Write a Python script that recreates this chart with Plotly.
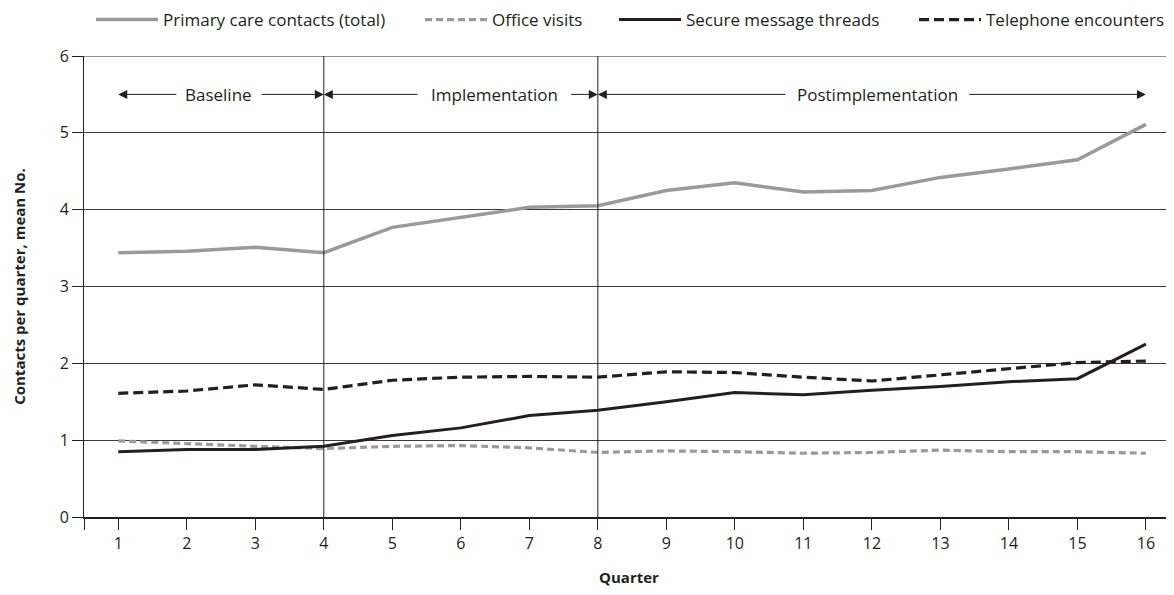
import plotly.graph_objects as go

quarters = list(range(1, 17))
tick_labels = [str(q) for q in quarters]
total = [3.44, 3.46, 3.51, 3.44, 3.77, 3.90, 4.03, 4.05, 4.25, 4.35, 4.23, 4.25, 4.42, 4.53, 4.65, 5.11]
office = [0.99, 0.95, 0.92, 0.89, 0.92, 0.93, 0.90, 0.84, 0.86, 0.85, 0.83, 0.84, 0.87, 0.85, 0.85, 0.83]
secure = [0.85, 0.88, 0.88, 0.92, 1.06, 1.16, 1.32, 1.39, 1.50, 1.62, 1.59, 1.65, 1.70, 1.76, 1.80, 2.25]
telephone = [1.61, 1.64, 1.72, 1.66, 1.78, 1.82, 1.83, 1.82, 1.89, 1.88, 1.82, 1.77, 1.85, 1.93, 2.01, 2.03]

phase_names = ["Baseline", "Implementation", "Postimplementation"]
phase_start = [1, 4, 8]
phase_end = [4, 8, 16]
phase_text_x = [2.47, 6.49, 12.08]
phase_half_gap = [0.6, 1.1, 1.32]
phase_y = 5.5

FONT = "Open Sans"
INK = "#231f20"
GRAY = "#9a9a9a"
FS = 17
W, H = 1166, 587

fig = go.Figure()
fig.add_trace(go.Scatter(x=quarters, y=total, mode="lines", name="Primary care contacts (total)",
                         line=dict(color=GRAY, width=3.5), legend="legend"))
fig.add_trace(go.Scatter(x=quarters, y=office, mode="lines", name="Office visits",
                         line=dict(color=GRAY, width=3.2, dash="7px,4px"), legend="legend2"))
fig.add_trace(go.Scatter(x=quarters, y=secure, mode="lines", name="Secure message threads",
                         line=dict(color=INK, width=3), legend="legend3"))
fig.add_trace(go.Scatter(x=quarters, y=telephone, mode="lines", name="Telephone encounters",
                         line=dict(color=INK, width=3.2, dash="10px,5px"), legend="legend4"))

shapes = []
for b in [4, 8]:
    shapes.append(dict(type="line", xref="x", yref="y", x0=b, x1=b, y0=0, y1=6,
                       line=dict(color=INK, width=1)))
shapes.append(dict(type="line", xref="paper", yref="y", x0=0, x1=1, y0=6, y1=6,
                   line=dict(color=INK, width=1)))

annotations = []
for name, s, e, tx, g in zip(phase_names, phase_start, phase_end, phase_text_x, phase_half_gap):
    annotations.append(dict(x=tx, y=phase_y, xref="x", yref="y", text=name, showarrow=False,
                            font=dict(family=FONT, size=FS, color=INK)))
    annotations.append(dict(x=s, y=phase_y, ax=tx - g, ay=phase_y, xref="x", yref="y",
                            axref="x", ayref="y", text="", showarrow=True, arrowhead=2,
                            arrowsize=1.8, arrowwidth=1, arrowcolor=INK, standoff=0))
    annotations.append(dict(x=e, y=phase_y, ax=tx + g, ay=phase_y, xref="x", yref="y",
                            axref="x", ayref="y", text="", showarrow=True, arrowhead=2,
                            arrowsize=1.8, arrowwidth=1, arrowcolor=INK, standoff=0))

def leg(xpix):
    return dict(orientation="h", xref="container", yref="container", x=xpix / W, xanchor="left",
                y=1 - 12 / H, yanchor="middle", font=dict(family=FONT, size=FS, color=INK),
                itemwidth=62, bgcolor="rgba(0,0,0,0)")

fig.update_layout(
    width=W, height=H,
    margin=dict(l=76, r=0, t=48, b=78, autoexpand=False),
    plot_bgcolor="white", paper_bgcolor="white",
    font=dict(family=FONT, size=FS, color=INK),
    showlegend=True,
    legend=leg(83), legend2=leg(412), legend3=leg(606), legend4=leg(906),
    shapes=shapes,
    annotations=annotations,
    xaxis=dict(range=[0.5, 16.41], tickvals=[0.5] + quarters, ticktext=[""] + tick_labels,
               ticks="outside", ticklen=11, tickcolor=INK, tickwidth=1, automargin=False,
               showgrid=False, zeroline=False, showline=True, linecolor=INK, linewidth=1.5,
               title=dict(text="<b>Quarter</b>", font=dict(family=FONT, size=15), standoff=20),
               tickfont=dict(family=FONT, size=16, color=INK)),
    yaxis=dict(range=[0, 6], tickvals=[0, 1, 2, 3, 4, 5, 6], ticks="outside", ticklen=11,
               tickcolor=INK, showgrid=True, gridcolor="#3a3a3a", gridwidth=1, automargin=False,
               zeroline=False, showline=True, linecolor=INK, linewidth=1,
               title=dict(text="<b>Contacts per quarter, mean No.</b>", font=dict(family=FONT, size=15), standoff=30),
               tickfont=dict(family=FONT, size=16, color=INK)),
)
fig.write_html("out.html",
               post_script="document.documentElement.style.overflow='hidden';document.body.style.overflow='hidden';")
